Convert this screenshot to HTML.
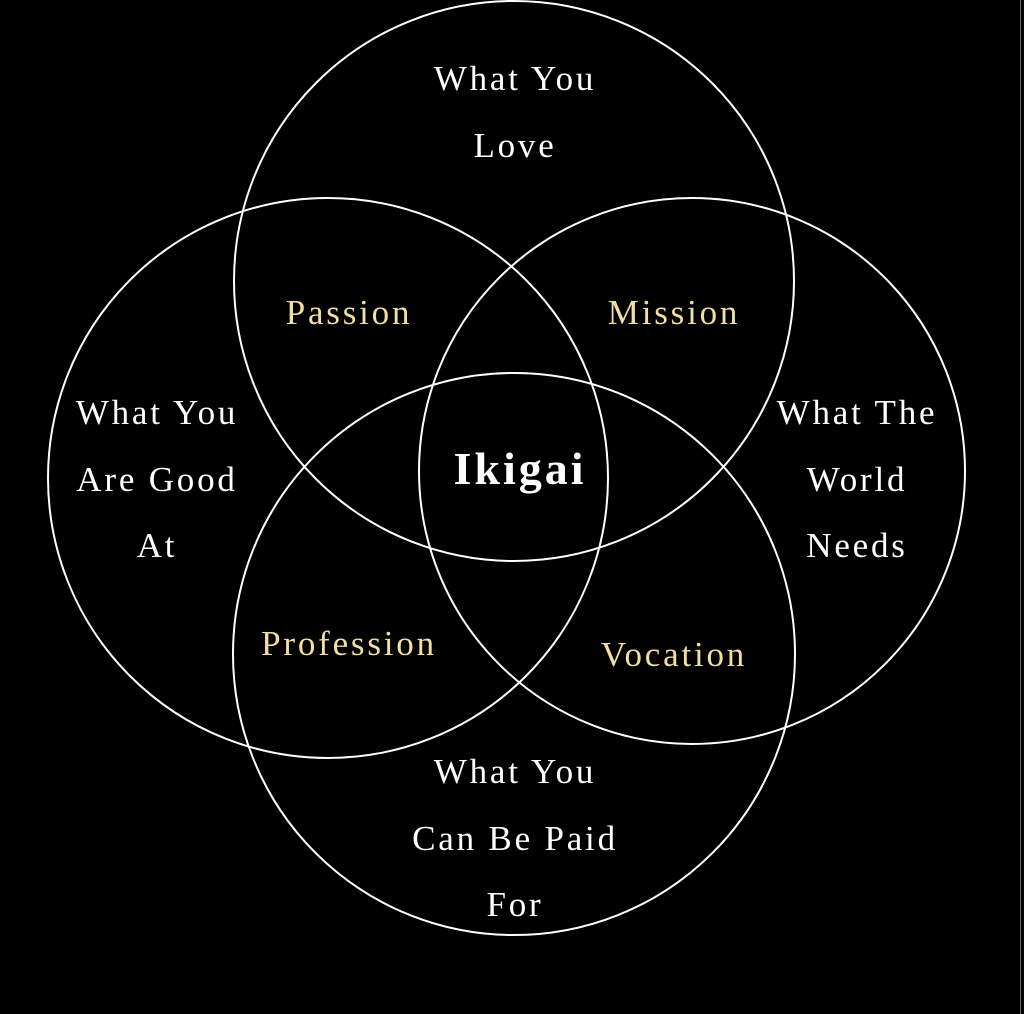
<!DOCTYPE html>
<html><head><meta charset="utf-8"><style>
html,body{margin:0;padding:0;background:#000;}
svg{display:block}
text{font-family:"Liberation Serif",serif;text-anchor:middle;}
.w{fill:#fff;font-size:35px;letter-spacing:2.8px;}
.g{fill:#f3dfa2;font-size:35px;letter-spacing:2.8px;}
</style></head><body>
<svg width="1024" height="1014" viewBox="0 0 1024 1014">
<rect width="1024" height="1014" fill="#000"/>
<line x1="1020.5" y1="0" x2="1020.5" y2="1014" stroke="#666" stroke-width="1"/>
<g fill="none" stroke="#fff" stroke-width="2">
<circle cx="514" cy="281" r="280"/>
<circle cx="328" cy="478" r="280"/>
<circle cx="692" cy="471" r="273"/>
<circle cx="514" cy="654" r="281"/>
</g>
<text class="w" x="515" y="90">What You</text>
<text class="w" x="515" y="157">Love</text>
<text class="w" x="157" y="424">What You</text>
<text class="w" x="157" y="491">Are Good</text>
<text class="w" x="157" y="557">At</text>
<text class="w" x="857" y="424">What The</text>
<text class="w" x="857" y="491">World</text>
<text class="w" x="857" y="557">Needs</text>
<text class="w" x="515" y="783">What You</text>
<text class="w" x="515" y="850">Can Be Paid</text>
<text class="w" x="515" y="916">For</text>
<text class="g" x="349" y="324">Passion</text>
<text class="g" x="674" y="324">Mission</text>
<text class="g" x="349" y="655">Profession</text>
<text class="g" x="674" y="666">Vocation</text>
<text x="520" y="484" style="fill:#fff;font-size:46px;font-weight:bold;letter-spacing:3px">Ikigai</text>
</svg>
</body></html>
